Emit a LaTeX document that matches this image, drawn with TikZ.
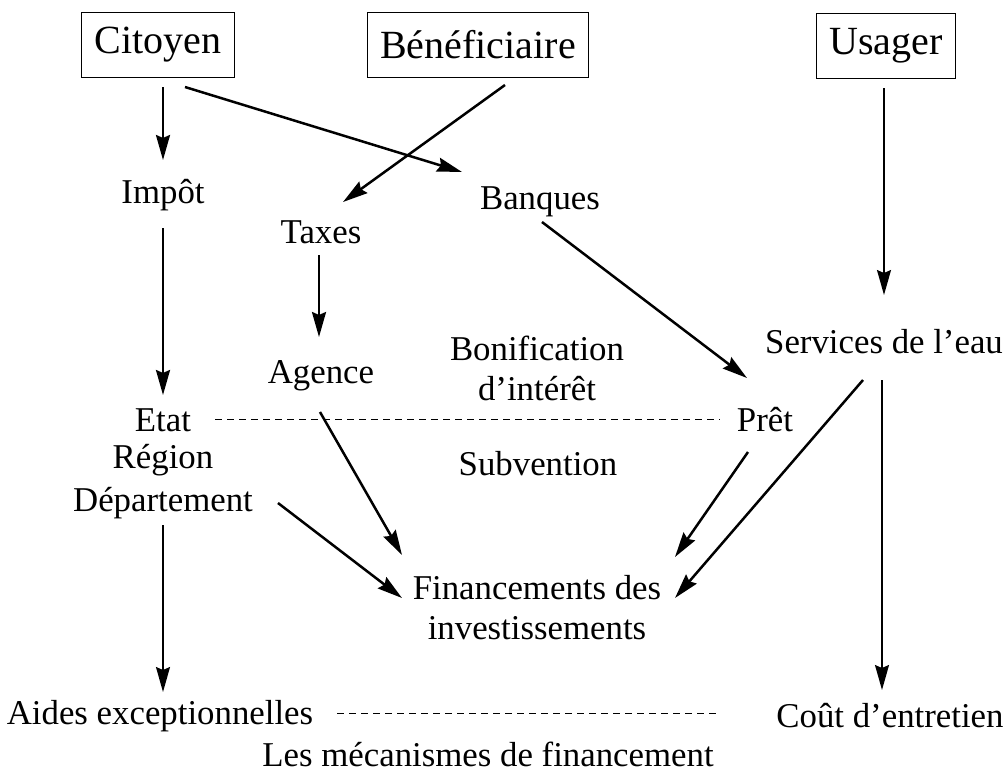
\documentclass[tikz,border=0pt]{standalone}
\usepackage{fontspec}
\setmainfont{Liberation Serif}
\usepackage{tikz}
\usetikzlibrary{arrows.meta}

\begin{document}
\begin{tikzpicture}[x=1pt, y=-1pt,
        actor/.style={draw, line width=1.4pt, inner xsep=13pt, minimum height=65pt,
          font=\fontsize{40pt}{46pt}\selectfont},
        item/.style={inner sep=0pt, align=center, font=\fontsize{34.8pt}{40pt}\selectfont},
        flow/.style={line width=2.5pt, -{Stealth[length=25pt, width=14pt, inset=3pt]}},
        thinflow/.style={line width=1.5pt, -{Stealth[length=25pt, width=14pt, inset=3pt]}},
        link/.style={line width=1pt, dash pattern=on 7pt off 5pt}]
        \useasboundingbox (0,0) rectangle (1007,772);
        % les acteurs
        \node[actor] (cit) at (158,45) {Citoyen};
        \node[actor] (ben) at (478,45) {Bénéficiaire};
        \node[actor] (usa) at (886,46) {Usager};
        % les flux
        \node[item] (impot)  at (163,195) {Impôt};
        \node[item] (taxes)  at (321,232) {Taxes};
        \node[item] (banq)   at (540,202) {Banques};
        \node[item] (agence) at (321,376) {Agence};
        \node[item] (bonif)  at (537,368) {Bonification\\d’intérêt};
        \node[item] (serv)   at (884,342) {Services de l’eau};
        \node[item] (etat)   at (163,420) {Etat};
        \node[item] (region) at (163,460) {Région};
        \node[item] (dept)   at (163,503) {Département};
        \node[item] (pret)   at (765,420) {Prêt};
        \node[item] (subv)   at (538,464) {Subvention};
        \node[item] (fin)    at (537,608) {Financements des\\investissements};
        \node[item] (aides)  at (160,716) {Aides exceptionnelles};
        \node[item] (cout)   at (890,716) {Coût d’entretien};
        \node[item] (titre)  at (488,754) {Les mécanismes de financement};
        % fleches
        \draw[flow] ([xshift=5pt, yshift=-42pt]cit.center) -- ([yshift=35pt]impot.center);
        \draw[flow] ([xshift=27pt, yshift=-42pt]cit.center) -- ([xshift=-78pt, yshift=30pt]banq.center);
        \draw[flow] ([xshift=27pt, yshift=-40pt]ben.center) -- ([xshift=22pt, yshift=30pt]taxes.center);
        \draw[flow] ([xshift=-2pt, yshift=-23pt]taxes.center) -- ([xshift=-2pt, yshift=39pt]agence.center);
        \draw[flow] ([xshift=2pt, yshift=-20pt]banq.center) -- ([xshift=-18pt, yshift=42pt]pret.center);
        \draw[thinflow] ([xshift=-2pt, yshift=-42pt]usa.center) -- ([yshift=47pt]serv.center);
        \draw[flow] ([yshift=-33pt]impot.center) -- ([yshift=25pt]etat.center);
        \draw[link] ([xshift=52pt, yshift=1pt]etat.center) -- ([xshift=-45pt, yshift=1pt]pret.center);
        \draw[flow] ([xshift=-1pt, yshift=-36pt]agence.center) -- ([xshift=-135pt, yshift=53pt]fin.center);
        \draw[flow] ([xshift=115pt]dept.center) -- ([xshift=-135pt, yshift=10pt]fin.center);
        \draw[flow] ([xshift=-17pt, yshift=-32pt]pret.center) -- ([xshift=138pt, yshift=51pt]fin.center);
        \draw[flow] ([xshift=-21pt, yshift=-38pt]serv.center) -- ([xshift=138pt, yshift=10pt]fin.center);
        \draw[thinflow] ([xshift=-2pt, yshift=-38pt]serv.center) -- ([xshift=-8pt, yshift=26pt]cout.center);
        \draw[thinflow] ([yshift=-22pt]dept.center) -- ([xshift=3pt, yshift=24pt]aides.center);
        \draw[link] ([xshift=177pt, yshift=3pt]aides.center) -- ([xshift=-174pt, yshift=3pt]cout.center);
      \end{tikzpicture}
\end{document}
